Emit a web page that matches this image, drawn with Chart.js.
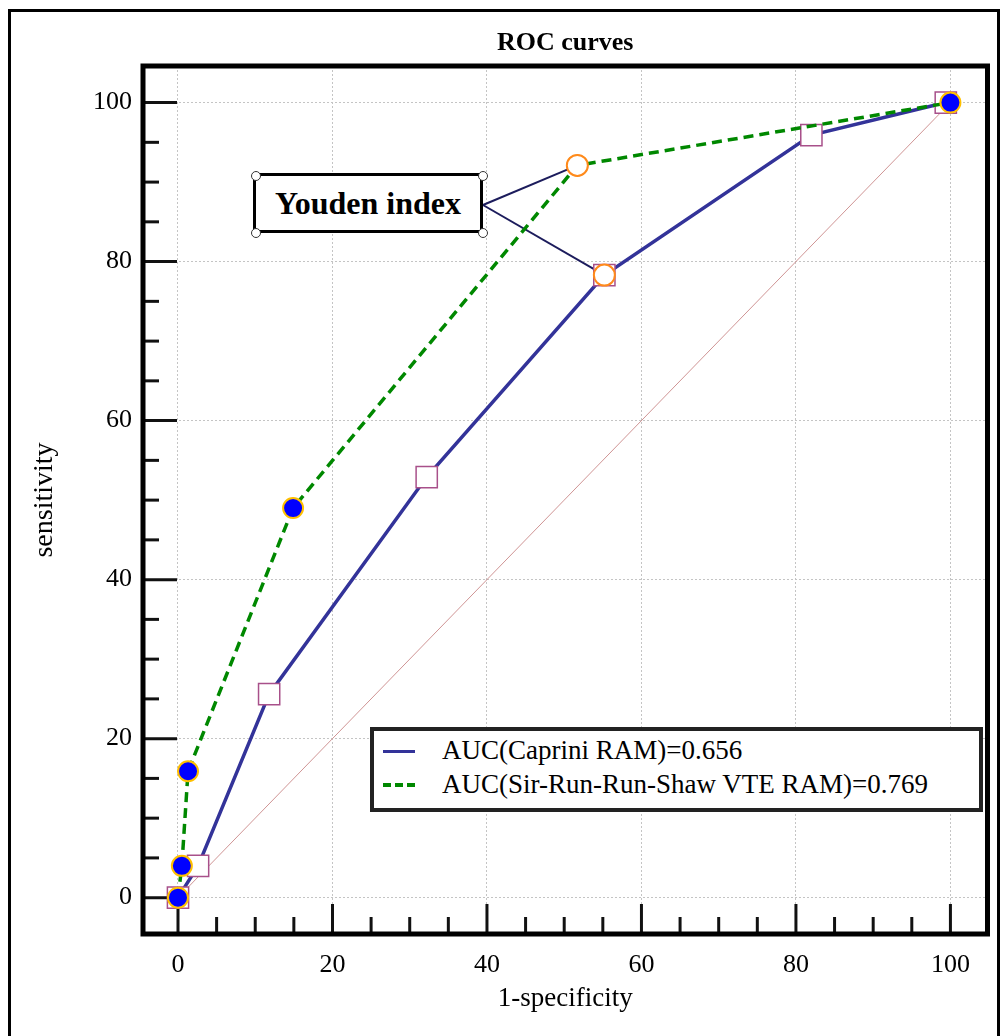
<!DOCTYPE html>
<html>
<head>
<meta charset="utf-8">
<script src="https://cdn.jsdelivr.net/npm/chart.js@4.4.1/dist/chart.umd.min.js"></script>
<style>
  html, body { margin: 0; padding: 0; background: #fff; overflow: hidden; }
  #wrap { position: relative; width: 1004px; height: 1036px; font-family: 'Liberation Serif', 'Times New Roman', serif; }
  #outer { position: absolute; left: 8px; top: 9px; width: 992px; height: 1060px; border: 3px solid #000; box-sizing: border-box; pointer-events: none; }
  #youden { position: absolute; left: 253px; top: 173px; width: 230px; height: 60px; border: 3px solid #000; box-sizing: border-box; background: #fff;
    font-weight: bold; font-size: 32px; line-height: 54px; text-align: center; color: #000; }
  .handle { position: absolute; width: 8px; height: 8px; border-radius: 50%; background: #fff; border: 1px solid #333; }
  #legend { position: absolute; left: 370px; top: 727px; width: 613px; height: 85px; border: 4px solid #222; box-sizing: border-box; background: #fff; }
  #legend .row { position: absolute; left: 68px; font-size: 27px; line-height: 30px; color: #000; white-space: nowrap; }
  #legend .sample { position: absolute; left: 9px; width: 32px; height: 0; }
</style>
</head>
<body>
<div id="wrap">
  <canvas id="roc"></canvas>
  <div id="outer"></div>
  <div id="youden">Youden index</div>
  <div id="legend"></div>
</div>
<script>
// --- data (1-specificity %, sensitivity %) ---
const caprX = [0, 2.6, 11.8, 32.2, 55.2, 82.0, 99.4];
const caprY = [0, 4.0, 25.6, 52.9, 78.3, 95.9, 100];
const srrsX = [0, 0.5, 1.3, 14.9, 51.7, 100];
const srrsY = [0, 4.0, 15.9, 49.0, 92.1, 100];
const youdenCapr = 4;   // index of Youden point in Caprini arrays
const youdenSrrs = 4;   // index of Youden point in SRRS arrays
const diagX = [0, 100];
const diagY = [0, 100];
const xTicks = [0, 20, 40, 60, 80, 100];
const yTicks = [0, 20, 40, 60, 80, 100];
const legendLabels = ['AUC(Caprini RAM)=0.656', 'AUC(Sir-Run-Run-Shaw VTE RAM)=0.769'];

const BLUE_LINE = '#333399';
const GREEN_LINE = '#008800';
const SERIF = "'Liberation Serif', 'Times New Roman', serif";

const pts = (xs, ys) => xs.map((x, i) => ({ x: x, y: ys[i] }));
const youdenPts = [
  { x: caprX[youdenCapr], y: caprY[youdenCapr] },
  { x: srrsX[youdenSrrs], y: srrsY[youdenSrrs] }
];
const youdenAnchor = { x: 483, y: 205 }; // right edge of the annotation box

// legend (html)
const leg = document.getElementById('legend');
leg.innerHTML = `
  <div class="sample" style="top:19px;border-top:3px solid ${BLUE_LINE}"></div>
  <div class="row" style="top:4px">${legendLabels[0]}</div>
  <div class="sample" style="top:52px;border-top:4px dashed ${GREEN_LINE}"></div>
  <div class="row" style="top:38px">${legendLabels[1]}</div>`;

// corner handles on the annotation box
const yb = document.getElementById('youden');
[[-5, -5], [222, -5], [-5, 52], [222, 52]].forEach(([l, t]) => {
  const h = document.createElement('div');
  h.className = 'handle';
  h.style.left = l + 'px'; h.style.top = t + 'px';
  yb.appendChild(h);
});

// inward ticks, connectors and thick frame
const framePlugin = {
  id: 'frame',
  beforeDatasetsDraw(chart) {
    const { ctx, chartArea: a, scales: { x, y } } = chart;
    ctx.save();
    ctx.strokeStyle = '#111';
    ctx.lineWidth = 3;
    for (let v = 0; v <= 100; v += 5) {
      const major = v % 20 === 0;
      const px = x.getPixelForValue(v);
      ctx.beginPath(); ctx.moveTo(px, a.bottom); ctx.lineTo(px, a.bottom - (major ? 30 : 17)); ctx.stroke();
      const py = y.getPixelForValue(v);
      ctx.beginPath(); ctx.moveTo(a.left, py); ctx.lineTo(a.left + (major ? 34 : 16), py); ctx.stroke();
    }
    // connectors from the Youden box
    ctx.strokeStyle = '#1c1c5c';
    ctx.lineWidth = 2;
    youdenPts.forEach(p => {
      ctx.beginPath();
      ctx.moveTo(youdenAnchor.x, youdenAnchor.y);
      ctx.lineTo(x.getPixelForValue(p.x), y.getPixelForValue(p.y));
      ctx.stroke();
    });
    ctx.restore();
  },
  afterDraw(chart) {
    const { ctx, chartArea: a } = chart;
    ctx.save();
    ctx.strokeStyle = '#000';
    ctx.lineWidth = 5;
    ctx.strokeRect(a.left, a.top, a.right - a.left, a.bottom - a.top);
    ctx.restore();
  }
};

Chart.defaults.font.family = SERIF;
Chart.defaults.color = '#000';

new Chart(document.getElementById('roc'), {
  type: 'scatter',
  data: {
    datasets: [
      { label: 'Youden', data: youdenPts, showLine: false, pointStyle: 'circle', pointRadius: 10.5,
        pointBackgroundColor: '#fff', pointBorderColor: '#ff8a1c', pointBorderWidth: 2 },
      { label: legendLabels[1], data: pts(srrsX, srrsY), showLine: true, borderColor: GREEN_LINE, borderWidth: 3.5,
        borderDash: [10, 6], pointStyle: 'circle', pointRadius: 10, pointBackgroundColor: '#0000ff',
        pointBorderColor: '#ffc000', pointBorderWidth: 2 },
      { label: legendLabels[0], data: pts(caprX, caprY), showLine: true, borderColor: BLUE_LINE, borderWidth: 3.5,
        pointStyle: 'rect', pointRadius: 15, pointBackgroundColor: '#fff', pointBorderColor: '#a8508a', pointBorderWidth: 1.5 },
      { label: 'diag', data: pts(diagX, diagY), showLine: true, borderColor: '#cf9494', borderWidth: 1, pointRadius: 0 }
    ]
  },
  options: {
    responsive: true,
    maintainAspectRatio: false,
    animation: false,
    layout: { padding: { left: 0, right: 16, top: 0, bottom: 0 } },
    plugins: {
      legend: { display: false },
      tooltip: { enabled: false },
      title: { display: true, text: 'ROC curves', fullSize: false, color: '#000',
        font: { size: 26, weight: 'bold', family: SERIF, lineHeight: 1.2 }, padding: { top: 28, bottom: 6.8 } }
    },
    scales: {
      x: {
        type: 'linear', min: -4.53, max: 104.8,
        afterFit: s => { s.height = 102; },
        afterBuildTicks: s => { s.ticks = xTicks.map(v => ({ value: v })); },
        border: { display: false, dash: [2, 2] },
        grid: { color: '#c4c4c4', lineWidth: 1, drawTicks: false },
        ticks: { padding: 16, font: { size: 26, family: SERIF }, color: '#000', maxRotation: 0 },
        title: { display: true, text: '1-specificity', font: { size: 27, family: SERIF }, color: '#000', padding: { top: 0, bottom: 21 } }
      },
      y: {
        type: 'linear', min: -4.57, max: 104.6,
        afterFit: s => { s.width = 143; },
        afterBuildTicks: s => { s.ticks = yTicks.map(v => ({ value: v })); },
        border: { display: false, dash: [2, 2] },
        grid: { color: '#c4c4c4', lineWidth: 1, drawTicks: false },
        ticks: { padding: 11, font: { size: 26, family: SERIF }, color: '#000' },
        title: { display: true, text: 'sensitivity', font: { size: 28, family: SERIF }, color: '#000', padding: { top: 28, bottom: 0 } }
      }
    }
  },
  plugins: [framePlugin]
});
</script>
</body>
</html>
